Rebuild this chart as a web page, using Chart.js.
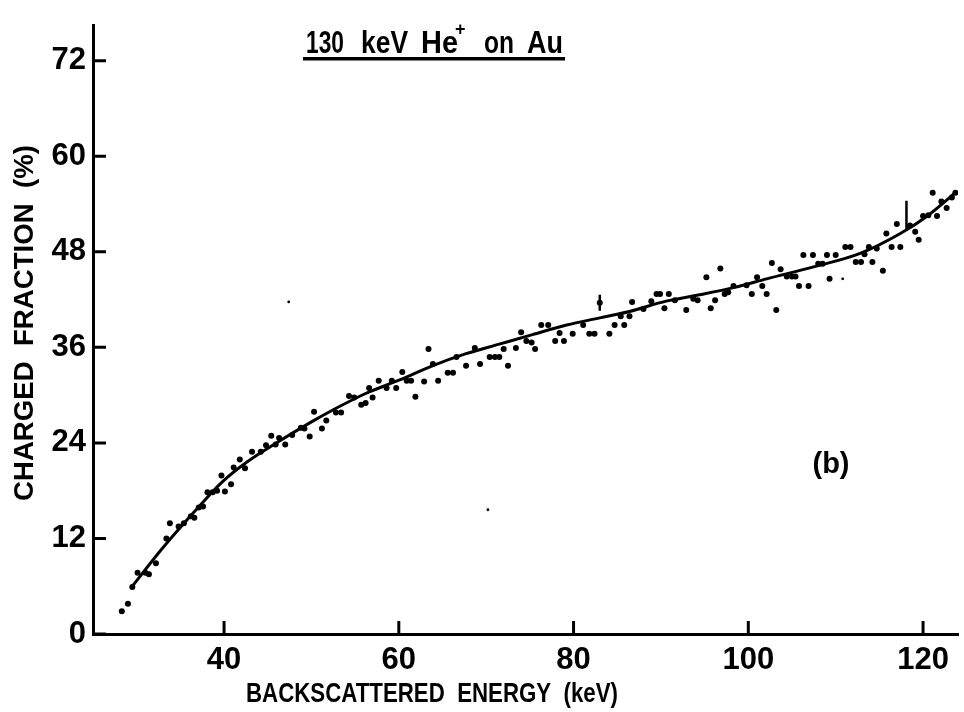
<!DOCTYPE html>
<html>
<head>
<meta charset="utf-8">
<script src="https://cdn.jsdelivr.net/npm/chart.js@4.4.1/dist/chart.umd.min.js"></script>
<style>
  html, body { margin: 0; padding: 0; background: #fff; }
  #wrap { width: 964px; height: 712px; }
</style>
</head>
<body>
<div id="wrap"><canvas id="grafik" width="964" height="712"></canvas></div>
<script>
// tick labels
const xTicks = [40, 60, 80, 100, 120];
const yTicks = [0, 12, 24, 36, 48, 60, 72];

// measured points (keV, %)
const dotX = [
  28.3, 29.0, 29.5, 30.1, 31.0, 31.4, 32.2, 33.4, 33.8, 34.8, 35.4, 36.2, 36.6, 37.1, 37.6, 38.1, 38.7, 39.2, 39.7, 40.1,
  40.8, 41.1, 41.8, 42.4, 43.2, 44.2, 44.8, 45.4, 45.9, 46.3, 47.0, 47.8, 48.8, 49.2, 49.8, 50.3, 51.2, 51.7,
  52.8, 53.4, 54.3, 54.9, 55.7, 56.2, 56.6, 57.0, 57.7, 58.6, 59.2, 59.7, 60.4, 60.9, 61.4, 61.9, 62.9, 63.4, 63.9, 64.5,
  65.6, 66.2, 66.6, 67.7, 68.7, 69.3, 70.4, 71.0, 71.5, 72.0, 72.5, 73.4, 74.0, 74.6, 75.2, 75.6, 76.3, 77.1, 77.9, 78.4,
  78.9, 79.9, 81.1, 81.8, 82.4, 83.0, 84.1, 84.7, 85.4, 85.8,
  86.4, 86.7, 88.0, 88.9, 89.5, 89.9, 90.4, 90.9, 91.6, 92.9, 93.7, 94.2, 95.2, 95.7, 96.2, 96.8, 97.3, 97.7, 98.3, 99.8,
  100.4, 101.0, 101.6, 102.1, 102.7, 103.2, 103.7, 104.4, 105.0, 105.4, 105.8, 106.3, 106.9, 107.4, 108.0, 108.5, 109.0, 109.3, 110.0, 111.1,
  111.7, 112.3, 112.9, 113.3, 113.8, 114.2, 114.7, 115.4, 115.8, 116.4, 117.0, 117.4, 118.5, 119.1, 119.5, 120.0, 120.6, 121.1, 121.6, 122.1,
  122.7, 123.3, 123.7
];
const dotY = [
  2.85, 3.8, 5.9, 7.7, 7.7, 7.5, 8.9, 12.0, 13.9, 13.5, 13.9, 14.8, 14.6, 15.9, 16.0, 17.8, 17.8, 18.0, 19.9, 17.9,
  18.8, 20.9, 21.9, 20.8, 22.9, 22.9, 23.7, 24.9, 23.8, 24.6, 23.8, 25.0, 25.9, 25.8, 24.8, 27.9, 25.8, 26.8,
  27.8, 27.8, 29.9, 29.7, 28.8, 29.0, 30.9, 29.7, 31.8, 30.9, 31.8, 30.9, 32.9, 31.8, 31.8, 29.8, 31.7, 35.8, 33.9, 31.8,
  32.8, 32.8, 34.8, 33.7, 35.9, 33.9, 34.8, 34.8, 34.8, 35.8, 33.7, 35.9, 37.9, 36.8, 36.6, 35.8, 38.8, 38.8, 36.8, 37.8,
  36.8, 37.7, 38.8, 37.7, 37.7, 41.6, 37.7, 38.8, 39.9, 38.8,
  39.9, 41.7, 40.8, 41.8, 42.7, 42.7, 40.9, 42.7, 41.9, 40.7, 42.1, 41.9, 44.8, 40.9, 41.9, 45.9, 42.7, 42.9, 43.7, 43.8,
  42.7, 44.8, 43.7, 42.7, 46.6, 40.7, 45.8, 44.9, 44.9, 44.9, 43.7, 47.6, 43.7, 47.6, 46.5, 46.5, 47.6, 44.6, 47.6, 48.6,
  48.6, 46.7, 46.7, 47.7, 48.6, 46.7, 48.4, 45.6, 50.3, 48.6, 51.5, 48.6, 51.3, 50.5, 49.5, 52.5, 52.6, 55.4, 52.5, 54.3,
  53.5, 54.8, 55.4
];

// tiny specks
const speckX = [47.4, 70.2, 110.8];
const speckY = [41.7, 15.6, 44.6];

// fitted curve
const curveX = [29.5, 32.9, 36.8, 39.8, 42.5, 46.3, 50.1, 52.4, 56.2, 60.1, 63.9, 67.7, 71.5, 75.3, 79.2, 83.0, 86.4, 90.6, 94.4, 98.3, 102.1, 107.8, 112.8, 117.4, 120.5, 123.9];
const curveY = [6.0, 10.7, 15.6, 19.1, 21.5, 24.2, 26.7, 28.1, 30.2, 31.9, 33.7, 35.2, 36.4, 37.6, 38.8, 39.7, 40.5, 41.8, 42.6, 43.5, 44.6, 46.2, 47.8, 50.3, 52.5, 55.6];

// error bars
const errX = [83.0, 118.1];
const errLo = [40.6, 50.6];
const errHi = [42.6, 54.4];

const FONT = '"Liberation Sans", Arial, sans-serif';
const ctx = document.getElementById("grafik").getContext("2d");

// tick ke dalam, error bar, teks
const hiasan = {
  id: "hiasan",
  afterDatasetsDraw(chart) {
    const { ctx, scales: { x, y }, chartArea } = chart;
    ctx.save();
    ctx.strokeStyle = "#000";
    ctx.lineWidth = 3;
    ctx.lineCap = "butt";
    ctx.beginPath();
    xTicks.forEach(v => {
      const px = x.getPixelForValue(v);
      ctx.moveTo(px, chartArea.bottom);
      ctx.lineTo(px, chartArea.bottom - 13);
    });
    yTicks.forEach(v => {
      const py = y.getPixelForValue(v);
      ctx.moveTo(chartArea.left, py);
      ctx.lineTo(chartArea.left + 13, py);
    });
    ctx.stroke();

    ctx.lineWidth = 2.5;
    ctx.beginPath();
    errX.forEach((v, i) => {
      const px = x.getPixelForValue(v);
      ctx.moveTo(px, y.getPixelForValue(errLo[i]));
      ctx.lineTo(px, y.getPixelForValue(errHi[i]));
    });
    ctx.stroke();
    ctx.restore();
  },
  afterDraw(chart) {
    const { ctx } = chart;
    ctx.save();
    ctx.fillStyle = "#000";

    // judul
    ctx.textBaseline = "alphabetic";
    ctx.textAlign = "left";
    ctx.font = "bold 31px " + FONT;
    ctx.fillText("130", 306, 53, 38);
    ctx.fillText("keV", 361, 53, 47);
    ctx.fillText("He", 421, 53, 37);
    ctx.fillText("on", 484, 53, 30);
    ctx.fillText("Au", 527, 53, 36);
    ctx.font = "bold 18px " + FONT;
    ctx.fillText("+", 455, 35);
    ctx.fillRect(303, 57, 262, 3.5);

    // (b)
    ctx.font = "bold 29px " + FONT;
    ctx.textAlign = "center";
    ctx.textBaseline = "middle";
    ctx.fillText("(b)", 831, 465);

    // judul sumbu
    ctx.font = "bold 28px " + FONT;
    ctx.fillText("BACKSCATTERED  ENERGY  (keV)", 432, 694, 372);
    ctx.translate(25, 323);
    ctx.rotate(-Math.PI / 2);
    ctx.font = "bold 28px " + FONT;
    ctx.fillText("CHARGED  FRACTION  (%)", 0, 0, 356);
    ctx.restore();
  }
};

const chart = new Chart(ctx, {
  type: "scatter",
  data: {
    datasets: [{
      type: "line",
      data: curveX.map((v, i) => ({ x: v, y: curveY[i] })),
      borderColor: "#000",
      borderWidth: 3,
      pointRadius: 0,
      fill: false,
      cubicInterpolationMode: "monotone"
    }, {
      data: dotX.map((v, i) => ({ x: v, y: dotY[i] })),
      backgroundColor: "#000",
      borderWidth: 0,
      pointRadius: 3
    }, {
      data: speckX.map((v, i) => ({ x: v, y: speckY[i] })),
      backgroundColor: "#000",
      borderWidth: 0,
      pointRadius: 1.4
    }]
  },
  options: {
    responsive: false,
    animation: false,
    devicePixelRatio: 1,
    layout: { padding: { top: 10, right: 6, left: 0, bottom: 0 } },
    plugins: {
      legend: { display: false },
      title: { display: false },
      tooltip: { enabled: false }
    },
    scales: {
      x: {
        type: "linear",
        min: 25,
        max: 124,
        grid: { display: false, drawTicks: false },
        border: { display: true, color: "#000", width: 3 },
        ticks: { color: "#000", font: { family: FONT, size: 31, weight: "bold" }, padding: 8 },
        afterBuildTicks: s => { s.ticks = xTicks.map(v => ({ value: v })); },
        afterFit: s => { s.height = 78; }
      },
      y: {
        type: "linear",
        min: 0,
        max: 76.4,
        grid: { display: false, drawTicks: false },
        border: { display: true, color: "#000", width: 3 },
        ticks: { color: "#000", font: { family: FONT, size: 31, weight: "bold" }, padding: 7 },
        afterBuildTicks: s => { s.ticks = yTicks.map(v => ({ value: v })); },
        afterFit: s => { s.width = 93; }
      }
    }
  },
  plugins: [hiasan]
});
</script>
</body>
</html>
